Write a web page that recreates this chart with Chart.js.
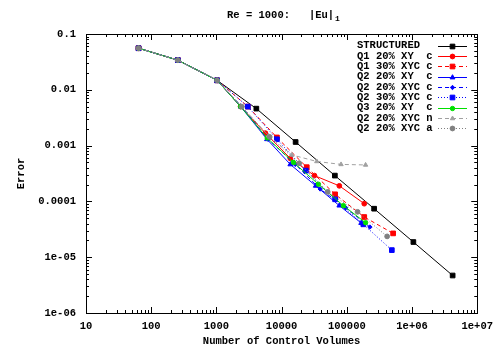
<!DOCTYPE html>
<html>
<head>
<meta charset="utf-8">
<script src="https://cdn.jsdelivr.net/npm/chart.js@4.4.0/dist/chart.umd.min.js"></script>
<style>
  html, body { margin: 0; padding: 0; background: #fff; }
</style>
</head>
<body>
<canvas id="myChart" width="500" height="350"></canvas>
<script>
var FONT = "'Liberation Mono', 'DejaVu Sans Mono', monospace";

// tick values and labels
var xTicks = [10, 100, 1000, 10000, 100000, 1000000, 10000000];
var xTickLabels = ["10", "100", "1000", "10000", "100000", "1e+06", "1e+07"];
var yTicks = [1e-6, 1e-5, 1e-4, 1e-3, 1e-2, 1e-1];
var yTickLabels = ["1e-06", "1e-05", "0.0001", "0.001", "0.01", "0.1"];

var seriesLabels = ["STRUCTURED", "Q1 20% XY  c", "Q1 30% XYC c", "Q2 20% XY  c",
  "Q2 20% XYC c", "Q2 30% XYC c", "Q3 20% XY  c", "Q2 20% XYC n", "Q2 20% XYC a"];

// number of control volumes / error, per series
var structuredCV  = [64, 256, 1024, 4096, 16384, 65536, 262144, 1048576, 4194304];
var structuredErr = [0.0556, 0.034, 0.0148, 0.0046, 0.00116, 0.00029, 7.4e-5, 1.87e-5, 4.7e-6];

var q1xy20CV  = [64, 256, 1024, 2350, 5640, 13600, 31900, 76700, 185000];
var q1xy20Err = [0.0556, 0.034, 0.0148, 0.0050, 0.00167, 5.9e-4, 2.9e-4, 1.9e-4, 9.1e-5];

var q1xyc30CV  = [64, 256, 1024, 3030, 8470, 24300, 66100, 185000, 513000];
var q1xyc30Err = [0.0556, 0.034, 0.0148, 0.0050, 0.0014, 4.1e-4, 1.34e-4, 5.25e-5, 2.67e-5];

var q2xy20CV  = [64, 256, 1024, 2350, 5970, 13600, 33400, 76700, 166000];
var q2xy20Err = [0.0556, 0.034, 0.0148, 0.0050, 0.0013, 4.6e-4, 1.9e-4, 8.4e-5, 4.1e-5];

var q2xyc20CV  = [64, 256, 1024, 2450, 6200, 16200, 39000, 95900, 226000];
var q2xyc20Err = [0.0556, 0.034, 0.0148, 0.0050, 0.0013, 4.6e-4, 1.67e-4, 7.7e-5, 3.47e-5];

var q2xyc30CV  = [64, 256, 1024, 3030, 8470, 23500, 66100, 179000, 490000];
var q2xyc30Err = [0.0556, 0.034, 0.0148, 0.0050, 0.0013, 3.56e-4, 1.09e-4, 3.88e-5, 1.34e-5];

var q3xy20CV  = [64, 256, 1024, 2350, 6000, 15200, 36700, 88500, 194000];
var q3xy20Err = [0.0556, 0.034, 0.0148, 0.0050, 0.00137, 5.0e-4, 2.03e-4, 8.4e-5, 4.15e-5];

var q2nCV  = [64, 256, 1024, 2450, 6300, 14400, 34600, 81500, 194000];
var q2nErr = [0.0556, 0.034, 0.0148, 0.0050, 0.0015, 6.8e-4, 5.2e-4, 4.6e-4, 4.5e-4];

var q2aCV  = [64, 256, 1024, 2450, 6560, 18600, 50900, 146000, 415000];
var q2aErr = [0.0556, 0.034, 0.0148, 0.0050, 0.00143, 4.83e-4, 1.48e-4, 6.5e-5, 2.36e-5];

function pts(xs, ys) {
  return xs.map(function (x, i) { return { x: x, y: ys[i] }; });
}

function series(i, xs, ys, color, style, radius, dash) {
  return {
    label: seriesLabels[i],
    data: pts(xs, ys),
    showLine: true,
    borderColor: color,
    backgroundColor: color,
    borderWidth: 1,
    borderDash: dash,
    pointStyle: style,
    pointRadius: radius,
    pointHoverRadius: radius,
    pointBorderWidth: 1,
    pointBackgroundColor: color,
    pointBorderColor: color,
    order: 8 - i
  };
}

var datasets = [
  series(0, structuredCV, structuredErr, "#000000", "rect", 3.3, []),
  series(1, q1xy20CV, q1xy20Err, "#ff0000", "circle", 2.4, []),
  series(2, q1xyc30CV, q1xyc30Err, "#ff0000", "rect", 3.3, [4, 3]),
  series(3, q2xy20CV, q2xy20Err, "#0000ff", "triangle", 2.8, []),
  series(4, q2xyc20CV, q2xyc20Err, "#0000ff", "rectRot", 2.2, [4, 3]),
  series(5, q2xyc30CV, q2xyc30Err, "#0000ff", "rect", 3.3, [1, 2]),
  series(6, q3xy20CV, q3xy20Err, "#00e000", "circle", 2.2, []),
  series(7, q2nCV, q2nErr, "#a0a0a0", "triangle", 2.5, [4, 3]),
  series(8, q2aCV, q2aErr, "#808080", "circle", 2.4, [1, 2])
];

// frame, inward ticks, titles and key drawn gnuplot-style
var gnuplotLook = {
  id: "gnuplotLook",
  afterDraw: function (chart) {
    var ctx = chart.ctx;
    var a = chart.chartArea;
    var sx = chart.scales.x, sy = chart.scales.y;
    ctx.save();

    ctx.strokeStyle = "#000";
    ctx.lineWidth = 1;
    ctx.strokeRect(Math.round(a.left) + 0.5, Math.round(a.top) + 0.5,
      Math.round(a.right - a.left), Math.round(a.bottom - a.top));

    ctx.beginPath();
    var d, m, v, p, len;
    for (d = 1; d <= 7; d++) {
      for (m = 1; m <= 9; m++) {
        v = m * Math.pow(10, d);
        if (d === 7 && m > 1) continue;
        p = Math.round(sx.getPixelForValue(v)) + 0.5;
        len = m === 1 ? 6 : 3;
        ctx.moveTo(p, a.bottom); ctx.lineTo(p, a.bottom - len);
        ctx.moveTo(p, a.top); ctx.lineTo(p, a.top + len);
      }
    }
    for (d = -6; d <= -1; d++) {
      for (m = 1; m <= 9; m++) {
        v = m * Math.pow(10, d);
        if (d === -1 && m > 1) continue;
        p = Math.round(sy.getPixelForValue(v)) + 0.5;
        len = m === 1 ? 6 : 3;
        ctx.moveTo(a.left, p); ctx.lineTo(a.left + len, p);
        ctx.moveTo(a.right, p); ctx.lineTo(a.right - len, p);
      }
    }
    ctx.stroke();

    ctx.fillStyle = "#000";
    ctx.font = "bold 10.5px " + FONT;
    ctx.textBaseline = "middle";
    ctx.textAlign = "left";
    var t = "Re = 1000:   |Eu|";
    ctx.fillText(t, 227, 15);
    var tw = ctx.measureText(t).width;
    ctx.font = "bold 8px " + FONT;
    ctx.fillText("1", 227 + tw + 1, 18.5);

    ctx.font = "bold 10.5px " + FONT;
    ctx.textAlign = "center";
    ctx.fillText("Number of Control Volumes", (a.left + a.right) / 2, 341);
    ctx.save();
    ctx.translate(21, (a.top + a.bottom) / 2);
    ctx.rotate(-Math.PI / 2);
    ctx.fillText("Error", 0, 0);
    ctx.restore();

    // key
    ctx.textAlign = "left";
    chart.data.datasets.forEach(function (ds, i) {
      var y = 45.7 + i * 10.33;
      ctx.fillStyle = "#000";
      ctx.font = "bold 10.5px " + FONT;
      ctx.fillText(ds.label, 357, y);
      ctx.strokeStyle = ds.borderColor;
      ctx.lineWidth = 1;
      ctx.setLineDash(ds.borderDash);
      ctx.beginPath();
      ctx.moveTo(438, Math.round(y) + 0.5);
      ctx.lineTo(467, Math.round(y) + 0.5);
      ctx.stroke();
      ctx.setLineDash([]);
      ctx.fillStyle = ds.borderColor;
      Chart.helpers.drawPoint(ctx, {
        pointStyle: ds.pointStyle, radius: ds.pointRadius, rotation: 0, borderWidth: 1
      }, 452.5, Math.round(y) + 0.5);
    });
    ctx.restore();
  }
};

var ctx = document.getElementById("myChart");
var myChart = new Chart(ctx, {
  type: "scatter",
  data: { datasets: datasets },
  options: {
    responsive: false,
    animation: false,
    layout: { padding: { top: 34, right: 20, left: 0, bottom: 0 } },
    plugins: {
      legend: { display: false },
      tooltip: { enabled: false },
      title: { display: false }
    },
    scales: {
      x: {
        type: "logarithmic",
        min: 10,
        max: 1e7,
        grid: { display: false, drawTicks: false },
        border: { display: false },
        afterBuildTicks: function (s) { s.ticks = xTicks.map(function (v) { return { value: v }; }); },
        afterFit: function (s) { s.height = 37; },
        ticks: {
          autoSkip: false, maxRotation: 0, padding: 7, color: "#000",
          font: { family: FONT, size: 10.5, weight: "bold" },
          callback: function (v, i) { return xTickLabels[i]; }
        }
      },
      y: {
        type: "logarithmic",
        min: 1e-6,
        max: 0.1,
        grid: { display: false, drawTicks: false },
        border: { display: false },
        afterBuildTicks: function (s) { s.ticks = yTicks.map(function (v) { return { value: v }; }); },
        afterFit: function (s) { s.width = 86; },
        ticks: {
          autoSkip: false, padding: 10, color: "#000",
          font: { family: FONT, size: 10.5, weight: "bold" },
          callback: function (v, i) { return yTickLabels[i]; }
        }
      }
    }
  },
  plugins: [gnuplotLook]
});
</script>
</body>
</html>
